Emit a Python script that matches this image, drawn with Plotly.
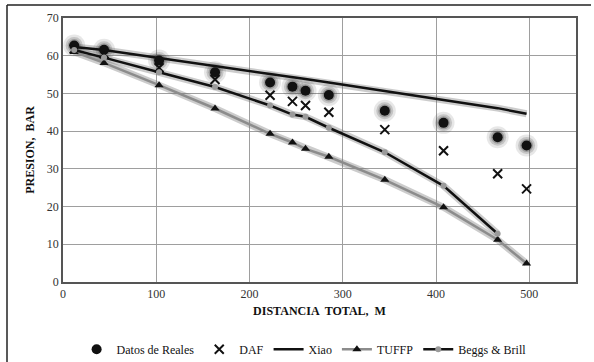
import plotly.graph_objects as go

dist = [12, 44, 103, 163, 222, 246, 260, 285, 345, 408, 466, 497]
reales = [62.7, 61.6, 58.7, 55.6, 52.9, 51.8, 50.7, 49.6, 45.4, 42.2, 38.4, 36.2]
daf = [61.8, 60.5, 56.8, 53.7, 49.5, 47.9, 46.8, 45.0, 40.4, 34.8, 28.7, 24.7]
xiao = [62.3, 61.5, 59.4, 57.2, 55.0, 54.3, 53.8, 52.9, 50.7, 48.3, 46.1, 44.6]
tuffp = [61.0, 58.1, 52.2, 46.0, 39.3, 37.0, 35.3, 33.2, 27.1, 19.8, 11.2, 4.9]
dist_bb = [12, 44, 103, 163, 222, 246, 260, 285, 345, 408, 466]
beggs = [61.5, 59.5, 55.6, 51.7, 46.8, 44.4, 43.8, 40.9, 34.4, 25.5, 12.8]

x_ticks = [0, 100, 200, 300, 400, 500]
y_ticks = [0, 10, 20, 30, 40, 50, 60, 70]

FONT = "Liberation Serif"
fig = go.Figure()

# soft shadows
for xs, ys in [(dist, xiao), (dist_bb, beggs), (dist, tuffp)]:
    fig.add_trace(go.Scatter(x=xs, y=ys, mode="lines", line=dict(color="rgba(110,110,110,0.35)", width=7),
                             showlegend=False, hoverinfo="skip"))
for sz, op in [(22, 0.12), (17, 0.2), (13, 0.3)]:
    fig.add_trace(go.Scatter(x=dist, y=reales, mode="markers",
                             marker=dict(symbol="circle", size=sz, color=f"rgba(60,60,60,{op})", line=dict(width=0)),
                             showlegend=False, hoverinfo="skip"))

fig.add_trace(go.Scatter(x=dist, y=reales, mode="markers", name="Datos de Reales",
                         marker=dict(symbol="circle", size=10, color="#111111", line=dict(width=0))))
fig.add_trace(go.Scatter(x=dist, y=daf, mode="markers", name="DAF",
                         marker=dict(symbol="x-thin", size=9, color="#111111",
                                     line=dict(width=2, color="#111111"))))
fig.add_trace(go.Scatter(x=dist, y=xiao, mode="lines", name="Xiao",
                         line=dict(color="#111111", width=2.5)))
fig.add_trace(go.Scatter(x=dist, y=tuffp, mode="lines+markers", name="TUFFP",
                         line=dict(color="#8c8c8c", width=2.5),
                         marker=dict(symbol="triangle-up", size=8, color="#111111")))
fig.add_trace(go.Scatter(x=dist_bb, y=beggs, mode="lines+markers", name="Beggs & Brill",
                         line=dict(color="#111111", width=2.5),
                         marker=dict(symbol="circle", size=6, color="#9a9a9a")))

axis_common = dict(showgrid=True, gridcolor="#9e9e9e", gridwidth=1, showline=True,
                   linecolor="#555555", linewidth=1.5, mirror=True, zeroline=False,
                   ticks="", automargin=False,
                   tickfont=dict(family=FONT, size=12, color="#333333"))

fig.update_xaxes(range=[0, 550], tickvals=x_ticks,
                 title=dict(text="<b>DISTANCIA  TOTAL,  M</b>", font=dict(family=FONT, size=12, color="#111111"),
                            standoff=6), **axis_common)
fig.update_yaxes(range=[0, 70], tickvals=y_ticks,
                 title=dict(text="<b>PRESION,  BAR</b>", font=dict(family=FONT, size=12, color="#111111"),
                            standoff=10), **axis_common)

bx0 = (7 - 63) / 513
bx1 = (591 - 63) / 513
by0 = -(362 - 282) / 264
by1 = (282 - 5) / 264
fig.update_layout(
    width=594, height=362,
    margin=dict(l=63, r=18, t=18, b=80, autoexpand=False),
    plot_bgcolor="white", paper_bgcolor="white",
    font=dict(family=FONT, size=12, color="#111111"),
    legend=dict(orientation="h", x=0.47, xanchor="center", y=-0.2, yanchor="top",
                font=dict(family=FONT, size=12, color="#111111"), itemwidth=30, tracegroupgap=0),
    shapes=[dict(type="line", xref="paper", yref="paper", x0=bx0, x1=bx1, y0=by1, y1=by1,
                 line=dict(color="#222222", width=1.5), layer="above"),
            dict(type="line", xref="paper", yref="paper", x0=bx0, x1=bx0, y0=by0, y1=by1,
                 line=dict(color="#222222", width=1.5), layer="above")],
)

fig.write_html("out.html", config={"displayModeBar": False},
               post_script="document.body.style.margin='0';document.body.style.overflow='hidden';")
